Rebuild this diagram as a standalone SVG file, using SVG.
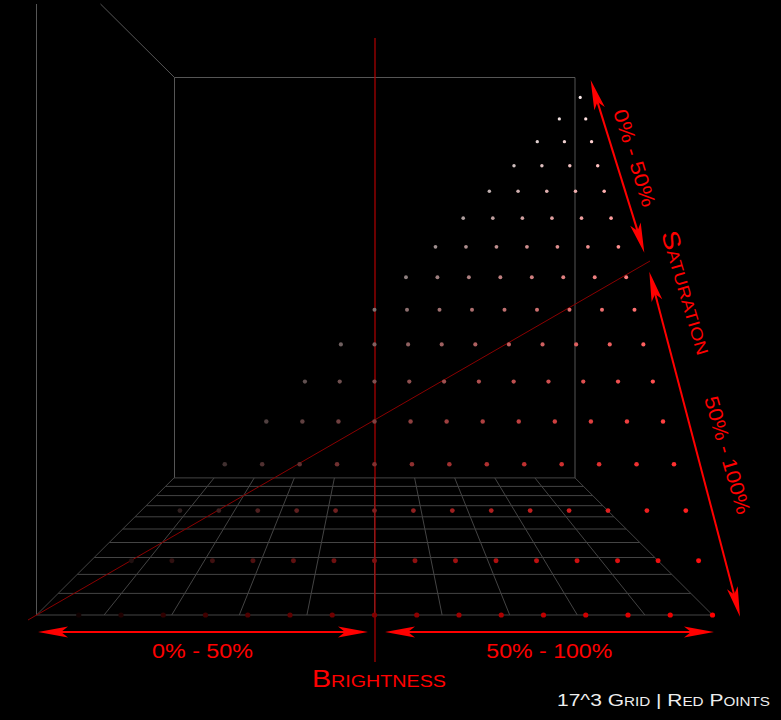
<svg xmlns="http://www.w3.org/2000/svg" width="781" height="720" viewBox="0 0 781 720">
<defs>
<style>
.wall{fill:none;stroke:#555;stroke-width:1}
.grid{fill:none;stroke:#444;stroke-width:1}
.guide{fill:none;stroke:#b40000;stroke-width:1.2}
.guide2{fill:none;stroke:#8a0000;stroke-width:1}
.arrow{fill:none;stroke:#f00;stroke-width:2;marker-start:url(#ah);marker-end:url(#ah)}
.lbl{font-family:"Liberation Sans",Arial,sans-serif;fill:#f00}
.cap{font-family:"Liberation Sans",Arial,sans-serif;fill:#eee}
</style>
<marker id="ah" markerUnits="userSpaceOnUse" orient="auto-start-reverse" refX="0" refY="0" markerWidth="40" markerHeight="20" overflow="visible">
<path d="M20,0 L-10,-5.5 L-3,0 L-10,5.5 Z" fill="#f00"/>
</marker>
</defs>
<rect width="781" height="720" fill="#000"/>
<g id="wall">
<path class="wall" d="M36.5,4 V615 M100.5,4 L174.5,77.5 M174.5,478 V77.5 H575 V478"/>
</g>
<g id="floor-grid">
<path class="grid" d="M36.5,615 H712.5 M58.2,593.4 H690.8 M77.3,574.4 H671.7 M94.2,557.5 H654.8 M109.3,542.5 H639.7 M122.8,529 H626.2 M135,516.8 H614 M146.1,505.7 H602.9 M156.2,495.6 H592.8 M165.5,486.4 H583.5 M174,477.9 H575
M36.5,615 L174,477.9 M104.1,615 L214.1,477.9 M171.7,615 L254.2,477.9 M239.3,615 L294.3,477.9 M306.9,615 L334.4,477.9 M374.5,615 L374.5,477.9 M442.1,615 L414.6,477.9 M509.7,615 L454.7,477.9 M577.3,615 L494.8,477.9 M644.9,615 L534.9,477.9 M712.5,615 L575,477.9"/>
</g>
<g id="guides">
<path class="guide" d="M375,38 V662"/>
<path class="guide2" d="M28,620 L650,261"/>
</g>
<g id="connectors">
<path class="arrow" d="M58,632 H348"/>
<path class="arrow" d="M405,632 H694"/>
<path class="arrow" d="M596.6,99.1 L638.4,233.6"/>
<path class="arrow" d="M654.4,291 L734.9,597.4"/>
</g>
<g id="points">
<g id="row0">
<circle cx="78.75" cy="615" r="2.6" fill="rgb(16,0,0)"/>
<circle cx="121" cy="615" r="2.6" fill="rgb(32,0,0)"/>
<circle cx="163.25" cy="615" r="2.6" fill="rgb(48,0,0)"/>
<circle cx="205.5" cy="615" r="2.6" fill="rgb(64,0,0)"/>
<circle cx="247.75" cy="615" r="2.6" fill="rgb(80,0,0)"/>
<circle cx="290" cy="615" r="2.6" fill="rgb(96,0,0)"/>
<circle cx="332.25" cy="615" r="2.6" fill="rgb(112,0,0)"/>
<circle cx="374.5" cy="615" r="2.6" fill="rgb(128,0,0)"/>
<circle cx="416.75" cy="615" r="2.6" fill="rgb(143,0,0)"/>
<circle cx="459" cy="615" r="2.6" fill="rgb(159,0,0)"/>
<circle cx="501.25" cy="615" r="2.6" fill="rgb(175,0,0)"/>
<circle cx="543.5" cy="615" r="2.6" fill="rgb(191,0,0)"/>
<circle cx="585.75" cy="615" r="2.6" fill="rgb(207,0,0)"/>
<circle cx="628" cy="615" r="2.6" fill="rgb(223,0,0)"/>
<circle cx="670.25" cy="615" r="2.6" fill="rgb(239,0,0)"/>
<circle cx="712.5" cy="615" r="2.6" fill="rgb(255,0,0)"/>
</g>
<g id="row1">
<circle cx="131.42" cy="560.64" r="2.49" fill="rgb(32,16,16)"/>
<circle cx="171.93" cy="560.64" r="2.49" fill="rgb(48,16,16)"/>
<circle cx="212.44" cy="560.64" r="2.49" fill="rgb(64,16,16)"/>
<circle cx="252.96" cy="560.64" r="2.49" fill="rgb(80,16,16)"/>
<circle cx="293.47" cy="560.64" r="2.49" fill="rgb(96,16,16)"/>
<circle cx="333.99" cy="560.64" r="2.49" fill="rgb(112,16,16)"/>
<circle cx="374.5" cy="560.64" r="2.49" fill="rgb(128,16,16)"/>
<circle cx="415.01" cy="560.64" r="2.49" fill="rgb(143,16,16)"/>
<circle cx="455.53" cy="560.64" r="2.49" fill="rgb(159,16,16)"/>
<circle cx="496.04" cy="560.64" r="2.49" fill="rgb(175,16,16)"/>
<circle cx="536.56" cy="560.64" r="2.49" fill="rgb(191,16,16)"/>
<circle cx="577.07" cy="560.64" r="2.49" fill="rgb(207,16,16)"/>
<circle cx="617.58" cy="560.64" r="2.49" fill="rgb(223,16,16)"/>
<circle cx="658.1" cy="560.64" r="2.49" fill="rgb(239,16,16)"/>
<circle cx="698.61" cy="560.64" r="2.49" fill="rgb(255,16,16)"/>
</g>
<g id="row2">
<circle cx="179.93" cy="510.56" r="2.39" fill="rgb(48,32,32)"/>
<circle cx="218.84" cy="510.56" r="2.39" fill="rgb(64,32,32)"/>
<circle cx="257.76" cy="510.56" r="2.39" fill="rgb(80,32,32)"/>
<circle cx="296.67" cy="510.56" r="2.39" fill="rgb(96,32,32)"/>
<circle cx="335.59" cy="510.56" r="2.39" fill="rgb(112,32,32)"/>
<circle cx="374.5" cy="510.56" r="2.39" fill="rgb(128,32,32)"/>
<circle cx="413.41" cy="510.56" r="2.39" fill="rgb(143,32,32)"/>
<circle cx="452.33" cy="510.56" r="2.39" fill="rgb(159,32,32)"/>
<circle cx="491.24" cy="510.56" r="2.39" fill="rgb(175,32,32)"/>
<circle cx="530.16" cy="510.56" r="2.39" fill="rgb(191,32,32)"/>
<circle cx="569.07" cy="510.56" r="2.39" fill="rgb(207,32,32)"/>
<circle cx="607.98" cy="510.56" r="2.39" fill="rgb(223,32,32)"/>
<circle cx="646.9" cy="510.56" r="2.39" fill="rgb(239,32,32)"/>
<circle cx="685.81" cy="510.56" r="2.39" fill="rgb(255,32,32)"/>
</g>
<g id="row3">
<circle cx="224.76" cy="464.29" r="2.3" fill="rgb(64,48,48)"/>
<circle cx="262.19" cy="464.29" r="2.3" fill="rgb(80,48,48)"/>
<circle cx="299.63" cy="464.29" r="2.3" fill="rgb(96,48,48)"/>
<circle cx="337.06" cy="464.29" r="2.3" fill="rgb(112,48,48)"/>
<circle cx="374.5" cy="464.29" r="2.3" fill="rgb(128,48,48)"/>
<circle cx="411.94" cy="464.29" r="2.3" fill="rgb(143,48,48)"/>
<circle cx="449.37" cy="464.29" r="2.3" fill="rgb(159,48,48)"/>
<circle cx="486.81" cy="464.29" r="2.3" fill="rgb(175,48,48)"/>
<circle cx="524.24" cy="464.29" r="2.3" fill="rgb(191,48,48)"/>
<circle cx="561.68" cy="464.29" r="2.3" fill="rgb(207,48,48)"/>
<circle cx="599.12" cy="464.29" r="2.3" fill="rgb(223,48,48)"/>
<circle cx="636.55" cy="464.29" r="2.3" fill="rgb(239,48,48)"/>
<circle cx="673.99" cy="464.29" r="2.3" fill="rgb(255,48,48)"/>
</g>
<g id="row4">
<circle cx="266.3" cy="421.41" r="2.22" fill="rgb(80,64,64)"/>
<circle cx="302.37" cy="421.41" r="2.22" fill="rgb(96,64,64)"/>
<circle cx="338.43" cy="421.41" r="2.22" fill="rgb(112,64,64)"/>
<circle cx="374.5" cy="421.41" r="2.22" fill="rgb(128,64,64)"/>
<circle cx="410.57" cy="421.41" r="2.22" fill="rgb(143,64,64)"/>
<circle cx="446.63" cy="421.41" r="2.22" fill="rgb(159,64,64)"/>
<circle cx="482.7" cy="421.41" r="2.22" fill="rgb(175,64,64)"/>
<circle cx="518.76" cy="421.41" r="2.22" fill="rgb(191,64,64)"/>
<circle cx="554.83" cy="421.41" r="2.22" fill="rgb(207,64,64)"/>
<circle cx="590.9" cy="421.41" r="2.22" fill="rgb(223,64,64)"/>
<circle cx="626.96" cy="421.41" r="2.22" fill="rgb(239,64,64)"/>
<circle cx="663.03" cy="421.41" r="2.22" fill="rgb(255,64,64)"/>
</g>
<g id="row5">
<circle cx="304.91" cy="381.56" r="2.14" fill="rgb(96,80,80)"/>
<circle cx="339.71" cy="381.56" r="2.14" fill="rgb(112,80,80)"/>
<circle cx="374.5" cy="381.56" r="2.14" fill="rgb(128,80,80)"/>
<circle cx="409.29" cy="381.56" r="2.14" fill="rgb(143,80,80)"/>
<circle cx="444.09" cy="381.56" r="2.14" fill="rgb(159,80,80)"/>
<circle cx="478.88" cy="381.56" r="2.14" fill="rgb(175,80,80)"/>
<circle cx="513.67" cy="381.56" r="2.14" fill="rgb(191,80,80)"/>
<circle cx="548.47" cy="381.56" r="2.14" fill="rgb(207,80,80)"/>
<circle cx="583.26" cy="381.56" r="2.14" fill="rgb(223,80,80)"/>
<circle cx="618.05" cy="381.56" r="2.14" fill="rgb(239,80,80)"/>
<circle cx="652.84" cy="381.56" r="2.14" fill="rgb(255,80,80)"/>
</g>
<g id="row6">
<circle cx="340.89" cy="344.42" r="2.07" fill="rgb(112,96,96)"/>
<circle cx="374.5" cy="344.42" r="2.07" fill="rgb(128,96,96)"/>
<circle cx="408.11" cy="344.42" r="2.07" fill="rgb(143,96,96)"/>
<circle cx="441.71" cy="344.42" r="2.07" fill="rgb(159,96,96)"/>
<circle cx="475.32" cy="344.42" r="2.07" fill="rgb(175,96,96)"/>
<circle cx="508.93" cy="344.42" r="2.07" fill="rgb(191,96,96)"/>
<circle cx="542.54" cy="344.42" r="2.07" fill="rgb(207,96,96)"/>
<circle cx="576.14" cy="344.42" r="2.07" fill="rgb(223,96,96)"/>
<circle cx="609.75" cy="344.42" r="2.07" fill="rgb(239,96,96)"/>
<circle cx="643.36" cy="344.42" r="2.07" fill="rgb(255,96,96)"/>
</g>
<g id="row7">
<circle cx="374.5" cy="309.73" r="2" fill="rgb(128,112,112)"/>
<circle cx="407" cy="309.73" r="2" fill="rgb(143,112,112)"/>
<circle cx="439.5" cy="309.73" r="2" fill="rgb(159,112,112)"/>
<circle cx="472" cy="309.73" r="2" fill="rgb(175,112,112)"/>
<circle cx="504.5" cy="309.73" r="2" fill="rgb(191,112,112)"/>
<circle cx="537" cy="309.73" r="2" fill="rgb(207,112,112)"/>
<circle cx="569.49" cy="309.73" r="2" fill="rgb(223,112,112)"/>
<circle cx="601.99" cy="309.73" r="2" fill="rgb(239,112,112)"/>
<circle cx="634.49" cy="309.73" r="2" fill="rgb(255,112,112)"/>
</g>
<g id="row8">
<circle cx="405.96" cy="277.26" r="1.94" fill="rgb(143,128,128)"/>
<circle cx="437.42" cy="277.26" r="1.94" fill="rgb(159,128,128)"/>
<circle cx="468.89" cy="277.26" r="1.94" fill="rgb(175,128,128)"/>
<circle cx="500.35" cy="277.26" r="1.94" fill="rgb(191,128,128)"/>
<circle cx="531.81" cy="277.26" r="1.94" fill="rgb(207,128,128)"/>
<circle cx="563.27" cy="277.26" r="1.94" fill="rgb(223,128,128)"/>
<circle cx="594.73" cy="277.26" r="1.94" fill="rgb(239,128,128)"/>
<circle cx="626.2" cy="277.26" r="1.94" fill="rgb(255,128,128)"/>
</g>
<g id="row9">
<circle cx="435.48" cy="246.79" r="1.88" fill="rgb(159,143,143)"/>
<circle cx="465.97" cy="246.79" r="1.88" fill="rgb(175,143,143)"/>
<circle cx="496.46" cy="246.79" r="1.88" fill="rgb(191,143,143)"/>
<circle cx="526.95" cy="246.79" r="1.88" fill="rgb(207,143,143)"/>
<circle cx="557.43" cy="246.79" r="1.88" fill="rgb(223,143,143)"/>
<circle cx="587.92" cy="246.79" r="1.88" fill="rgb(239,143,143)"/>
<circle cx="618.41" cy="246.79" r="1.88" fill="rgb(255,143,143)"/>
</g>
<g id="row10">
<circle cx="463.22" cy="218.15" r="1.82" fill="rgb(175,159,159)"/>
<circle cx="492.8" cy="218.15" r="1.82" fill="rgb(191,159,159)"/>
<circle cx="522.37" cy="218.15" r="1.82" fill="rgb(207,159,159)"/>
<circle cx="551.94" cy="218.15" r="1.82" fill="rgb(223,159,159)"/>
<circle cx="581.52" cy="218.15" r="1.82" fill="rgb(239,159,159)"/>
<circle cx="611.09" cy="218.15" r="1.82" fill="rgb(255,159,159)"/>
</g>
<g id="row11">
<circle cx="489.35" cy="191.18" r="1.77" fill="rgb(191,175,175)"/>
<circle cx="518.06" cy="191.18" r="1.77" fill="rgb(207,175,175)"/>
<circle cx="546.77" cy="191.18" r="1.77" fill="rgb(223,175,175)"/>
<circle cx="575.48" cy="191.18" r="1.77" fill="rgb(239,175,175)"/>
<circle cx="604.2" cy="191.18" r="1.77" fill="rgb(255,175,175)"/>
</g>
<g id="row12">
<circle cx="514" cy="165.74" r="1.72" fill="rgb(207,191,191)"/>
<circle cx="541.9" cy="165.74" r="1.72" fill="rgb(223,191,191)"/>
<circle cx="569.8" cy="165.74" r="1.72" fill="rgb(239,191,191)"/>
<circle cx="597.7" cy="165.74" r="1.72" fill="rgb(255,191,191)"/>
</g>
<g id="row13">
<circle cx="537.29" cy="141.7" r="1.67" fill="rgb(223,207,207)"/>
<circle cx="564.42" cy="141.7" r="1.67" fill="rgb(239,207,207)"/>
<circle cx="591.56" cy="141.7" r="1.67" fill="rgb(255,207,207)"/>
</g>
<g id="row14">
<circle cx="559.34" cy="118.94" r="1.62" fill="rgb(239,223,223)"/>
<circle cx="585.74" cy="118.94" r="1.62" fill="rgb(255,223,223)"/>
</g>
<g id="row15">
<circle cx="580.23" cy="97.38" r="1.58" fill="rgb(255,239,239)"/>
</g>
</g>
<g id="label-bright-low">
<text class="lbl" x="202.5" y="658" font-size="20" text-anchor="middle" textLength="101" lengthAdjust="spacingAndGlyphs">0% - 50%</text>
</g>
<g id="label-bright-high">
<text class="lbl" x="549.3" y="658" font-size="20" text-anchor="middle" textLength="126" lengthAdjust="spacingAndGlyphs">50% - 100%</text>
</g>
<g id="label-brightness">
<text class="lbl" x="379" y="687" text-anchor="middle" textLength="134" lengthAdjust="spacingAndGlyphs"><tspan font-size="24">B</tspan><tspan font-size="16.5">RIGHTNESS</tspan></text>
</g>
<g id="label-sat-low">
<text class="lbl" transform="translate(628,160) rotate(72.8)" font-size="20" text-anchor="middle" textLength="101" lengthAdjust="spacingAndGlyphs">0% - 50%</text>
</g>
<g id="label-saturation">
<text class="lbl" transform="translate(679.3,294.8) rotate(73.5)" text-anchor="middle" textLength="128" lengthAdjust="spacingAndGlyphs"><tspan font-size="24">S</tspan><tspan font-size="16.5">ATURATION</tspan></text>
</g>
<g id="label-sat-high">
<text class="lbl" transform="translate(720.8,457.1) rotate(74)" font-size="20" text-anchor="middle" textLength="122" lengthAdjust="spacingAndGlyphs">50% - 100%</text>
</g>
<g id="caption">
<text class="cap" x="557" y="706" font-size="16.5" textLength="213" lengthAdjust="spacingAndGlyphs">17^3 G<tspan font-size="12">RID</tspan> | R<tspan font-size="12">ED</tspan> P<tspan font-size="12">OINTS</tspan></text>
</g>
</svg>
